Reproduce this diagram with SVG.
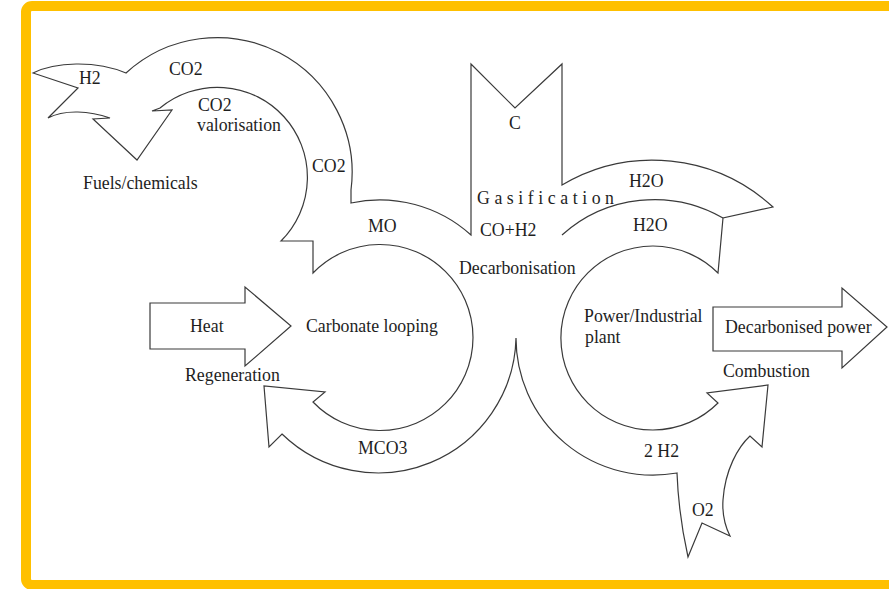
<svg xmlns="http://www.w3.org/2000/svg" width="889" height="589" viewBox="0 0 889 589">
  <style>
    .shape { fill: #ffffff; stroke: #3a3a3a; stroke-width: 1.2; stroke-linejoin: miter; }
    .line { fill: none; stroke: #3a3a3a; stroke-width: 1.2; }
    .lbl { font-family: "Liberation Serif", "Times New Roman", serif; font-size: 17.8px; fill: #1e1e1e; }
  </style>
  <rect x="0" y="0" width="889" height="589" fill="#ffffff"/>
  <rect id="frame" x="26" y="6" width="880" height="579" rx="6" fill="none" stroke="#FFC000" stroke-width="10"/>

  <g id="cycle">
    <path class="shape" d="M471,235 L471,64 L515,108 L562,64 L562,185
      A178,178 0 0 1 773,207 L723,218 L718,273
      A92,92 0 1 0 718,403 L707,393 L768,385 L762,447 L750,436
      C738,447 725,470 723,500 C722,515 726,528 730,536
      L702,523 L688,557 C682,530 678,500 677,473
      A137,137 0 0 1 516,338
      A138,138 0 0 1 282,434 L269,447 L264,386 L325,392 L313,402
      A93,93 0 1 0 313,273 L313,241 L281,241
      A90,90 0 0 0 160,108 L152,111 L172,110 L137,160 L93,119 L110,118
      C90,111 65,109 48,118 L78,88 L33,73
      C55,62 95,60 126,73
      A135,135 0 0 1 351,190 L351,203
      A136,136 0 0 1 471,235 Z"/>
    <path class="line" d="M562,235 A138,138 0 0 1 723,218"/>
  </g>

  <g id="heat-arrow">
    <path class="shape" d="M150,303 H245 V287 L291,326 L245,366 V349 H150 Z"/>
  </g>

  <g id="power-arrow">
    <path class="shape" d="M713,307 H842 V288 L887,327 L842,368 V351 H713 Z"/>
  </g>

  <g id="labels">
    <text class="lbl" x="79" y="84">H2</text>
    <text class="lbl" x="169" y="75">CO2</text>
    <text class="lbl" x="198" y="111">CO2</text>
    <text class="lbl" x="197" y="131">valorisation</text>
    <text class="lbl" x="312" y="172">CO2</text>
    <text class="lbl" x="83" y="189">Fuels/chemicals</text>
    <text class="lbl" x="368" y="232">MO</text>
    <text class="lbl" x="509" y="129">C</text>
    <text class="lbl" x="477" y="204" textLength="137" lengthAdjust="spacing">Gasification</text>
    <text class="lbl" x="480" y="236">CO+H2</text>
    <text class="lbl" x="629" y="187">H2O</text>
    <text class="lbl" x="633" y="231">H2O</text>
    <text class="lbl" x="459" y="274">Decarbonisation</text>
    <text class="lbl" x="190" y="332">Heat</text>
    <text class="lbl" x="306" y="332">Carbonate looping</text>
    <text class="lbl" x="185" y="381">Regeneration</text>
    <text class="lbl" x="358" y="454">MCO3</text>
    <text class="lbl" x="584" y="322">Power/Industrial</text>
    <text class="lbl" x="585" y="343">plant</text>
    <text class="lbl" x="725" y="333">Decarbonised power</text>
    <text class="lbl" x="723" y="377">Combustion</text>
    <text class="lbl" x="644" y="457">2 H2</text>
    <text class="lbl" x="692" y="516">O2</text>
  </g>
</svg>
